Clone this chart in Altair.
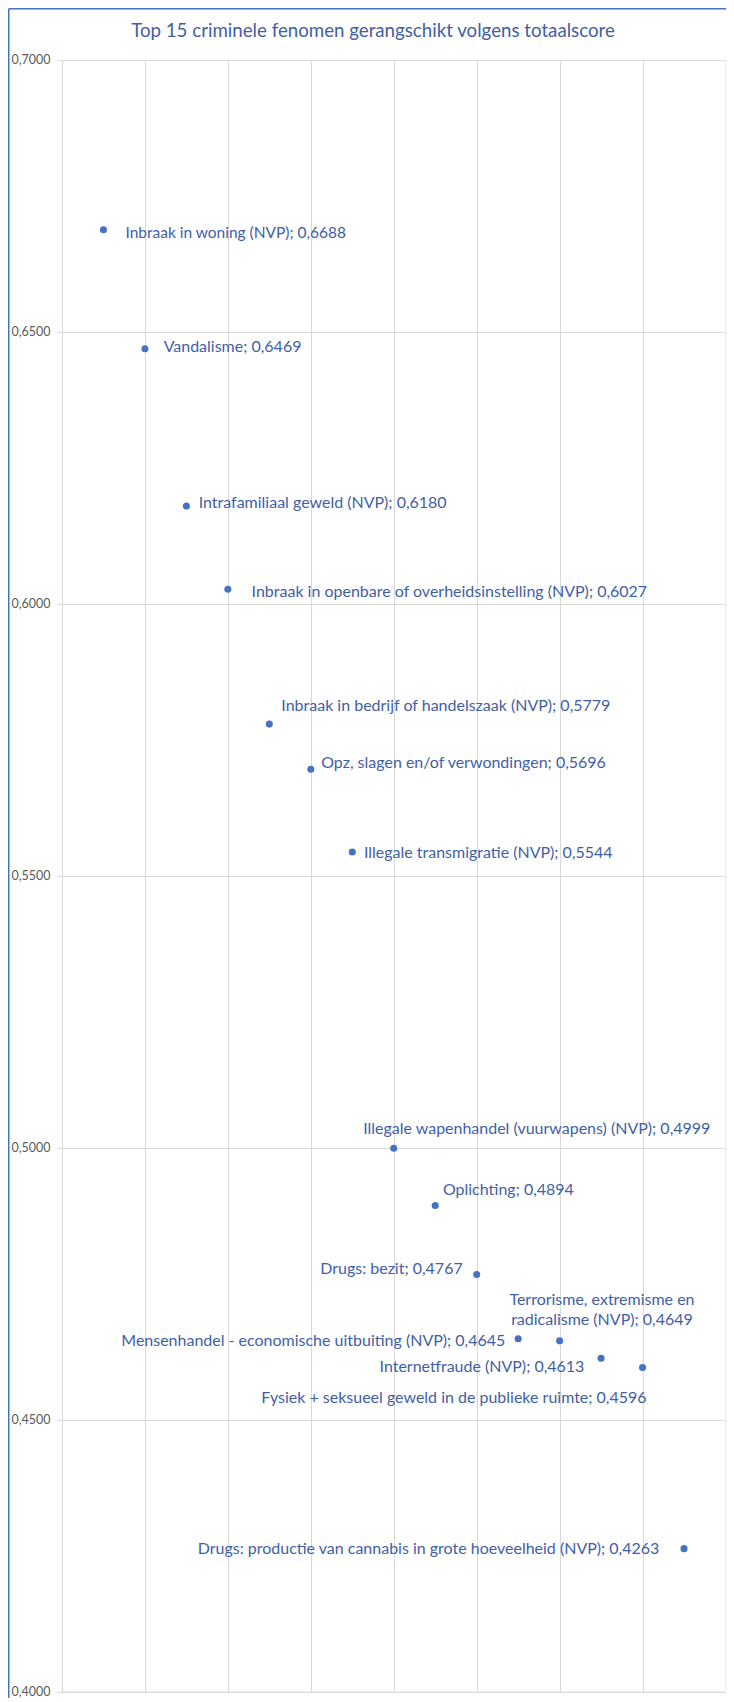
import altair as alt
import pandas as pd

# ---- data ----
ranks = list(range(1, 16))
names = [
    "Inbraak in woning (NVP)",
    "Vandalisme",
    "Intrafamiliaal geweld (NVP)",
    "Inbraak in openbare of overheidsinstelling (NVP)",
    "Inbraak in bedrijf of handelszaak (NVP)",
    "Opz. slagen en/of verwondingen",
    "Illegale transmigratie (NVP)",
    "Illegale wapenhandel (vuurwapens) (NVP)",
    "Oplichting",
    "Drugs: bezit",
    "Terrorisme, extremisme en\nradicalisme (NVP)",
    "Mensenhandel - economische uitbuiting (NVP)",
    "Internetfraude (NVP)",
    "Fysiek + seksueel geweld in de publieke ruimte",
    "Drugs: productie van cannabis in grote hoeveelheid (NVP)",
]
scores = [0.6688, 0.6469, 0.6180, 0.6027, 0.5779, 0.5696, 0.5544,
          0.4999, 0.4894, 0.4767, 0.4649, 0.4645, 0.4613, 0.4596, 0.4263]
y_ticks = [0.40, 0.45, 0.50, 0.55, 0.60, 0.65, 0.70]
x_grid = [0, 2, 4, 6, 8, 10, 12, 14, 16]
title_text = "Top 15 criminele fenomen gerangschikt volgens totaalscore"

labels = [f"{n}; {s:.4f}".replace(".", ",") for n, s in zip(names, scores)]
df = pd.DataFrame({"rank": ranks, "score": scores, "label": labels})

# ---- label placement styles (align, dx, dy, size) ----
FONT = "Lato"
LBL = 16
label_style = [
    ("left", 22, 3, 15.5),
    ("left", 18.7, -1.5, LBL),
    ("left", 12.3, -2.7, LBL),
    ("left", 23.7, 3, LBL),
    ("left", 12, -18.3, LBL),
    ("left", 10.4, -6.7, LBL),
    ("left", 11.6, 1, LBL),
    ("left", -30.6, -19.7, LBL),
    ("left", 7.7, -15.3, LBL),
    ("right", -14, -5.7, LBL),
    ("center", 83.8, -38.6, LBL),
    ("right", -54.3, 0.4, LBL),
    ("right", -16.7, 8.6, LBL),
    ("right", 4, 30, LBL),
    ("right", -24.7, 0, LBL),
]

GRID = "#D9D9D9"
BLUE = "#4472C4"
TEXT_BLUE = "#3F60A6"

X = alt.X("rank:Q",
          scale=alt.Scale(domain=[0, 16], nice=False, zero=False),
          axis=alt.Axis(values=x_grid, labels=False, ticks=False, domain=False,
                        grid=True, gridColor=GRID, gridWidth=1, title=None))
Y = alt.Y("score:Q",
          scale=alt.Scale(domain=[0.4, 0.7], nice=False, zero=False),
          axis=alt.Axis(values=y_ticks,
                        labelExpr="replace(format(datum.value, '.4f'), '.', ',')",
                        tickSize=5, tickColor=GRID, domain=True, domainColor=GRID,
                        grid=True, gridColor=GRID, gridWidth=1,
                        labelColor="#595959", labelFont=FONT, labelFontSize=12.5,
                        labelPadding=7, title=None))

base = alt.Chart(df)
points = base.mark_circle(size=50, color=BLUE, opacity=1).encode(x=X, y=Y)

layers = [points]
for r, (align, dx, dy, fs) in zip(ranks, label_style):
    layers.append(
        base.transform_filter(alt.datum.rank == r)
        .mark_text(align=align, baseline="middle", dx=dx, dy=dy, fontSize=fs,
                   font=FONT, color=TEXT_BLUE, lineBreak="\n", lineHeight=20)
        .encode(x=X, y=Y, text="label:N")
    )

one = alt.Chart(pd.DataFrame({"title": [title_text]}))
title = one.mark_text(align="center", baseline="middle", font=FONT, fontSize=18.7,
                      color=TEXT_BLUE).encode(
    x=alt.value(311), y=alt.value(-29), text="title:N")
border_left = one.mark_rule(color=BLUE, strokeWidth=1.5).encode(
    x=alt.value(-53.25), y=alt.value(-51.25), y2=alt.value(1660))
border_top = one.mark_rule(color=BLUE, strokeWidth=1.5).encode(
    x=alt.value(-53.25), x2=alt.value(690), y=alt.value(-51.25))
layers += [title, border_left, border_top]

chart = alt.layer(*layers).properties(
    width=663.5, height=1631.7,
    autosize=alt.AutoSizeParams(type="none"),
    padding={"left": 54, "top": 52, "right": 0, "bottom": 6},
).configure_view(stroke=GRID, strokeWidth=1)

chart.save("out.html", embed_options={"renderer": "svg", "actions": False})
